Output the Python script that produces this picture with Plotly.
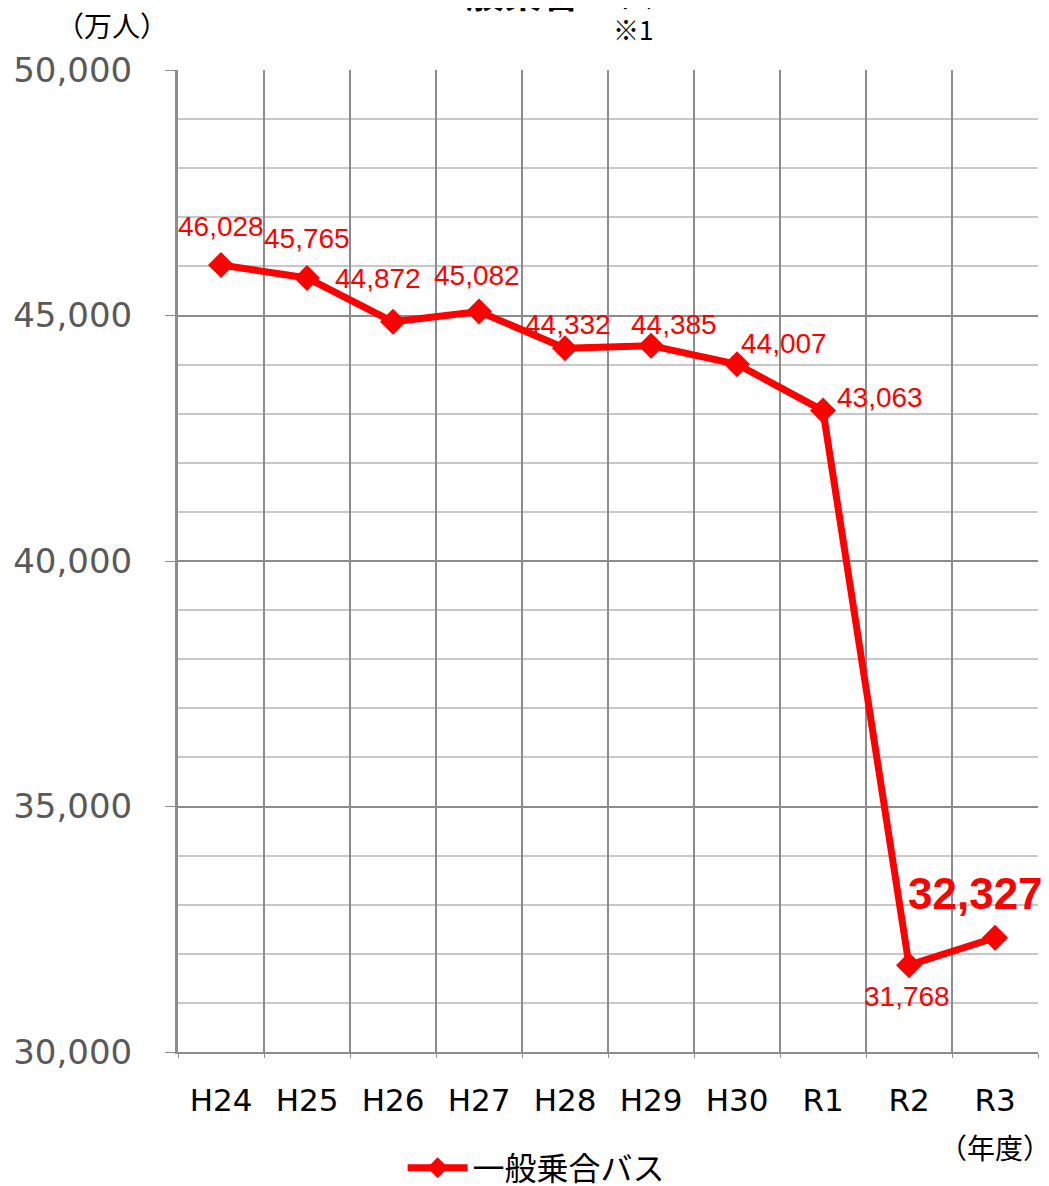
import plotly.graph_objects as go

categories = ["H24", "H25", "H26", "H27", "H28", "H29", "H30", "R1", "R2", "R3"]
passengers = [46028, 45765, 44872, 45082, 44332, 44385, 44007, 43063, 31768, 32327]
series_name = "一般乗合バス"
y_ticks = [30000, 35000, 40000, 45000, 50000]

# label pixel offsets (style only)
label_shift = [(0, 39), (0, 39), (-15, 43), (-2, 36), (3, 24), (23, 21), (47, 21), (57, 13), (-2, -31), (-20, 44)]

RED = "#ff0000"
fig = go.Figure()
fig.add_trace(go.Scatter(
    x=categories, y=passengers, mode="lines+markers", name=series_name,
    line=dict(color=RED, width=7),
    marker=dict(symbol="diamond", size=20, color=RED),
))

for i, (c, v) in enumerate(zip(categories, passengers)):
    dx, dy = label_shift[i]
    last = i == len(categories) - 1
    fig.add_annotation(
        x=c, y=v, xref="x", yref="y", text=f"{v:,}", showarrow=False,
        xshift=dx, yshift=dy,
        font=dict(family="Liberation Sans, Arial", size=44 if last else 28, color=RED,
                  weight="bold" if last else "normal"),
    )

cjk = "Noto Sans CJK JP"
fig.add_annotation(xref="paper", yref="paper", x=0.423, xanchor="center", y=1, yanchor="bottom", yshift=50,
                   text="<b>" + series_name + "</b>", showarrow=False,
                   font=dict(family=cjk, size=38, color="#000"))
fig.add_annotation(xref="paper", yref="paper", x=-0.077, xanchor="center", y=1, yanchor="middle", yshift=45,
                   text="（万人）", showarrow=False,
                   font=dict(family=cjk, size=28, color="#000"))
fig.add_annotation(xref="paper", yref="paper", x=0.529, xanchor="center", y=1, yanchor="middle", yshift=42,
                   text="※1", showarrow=False,
                   font=dict(family=cjk, size=26, color="#000"))
fig.add_annotation(xref="paper", yref="paper", x=0.95, xanchor="center", y=0, yanchor="middle", yshift=-95,
                   text="（年度）", showarrow=False,
                   font=dict(family=cjk, size=28, color="#000"))

fig.update_layout(
    width=1049, height=1186,
    margin=dict(l=170, r=19, t=62, b=142, autoexpand=False),
    paper_bgcolor="white", plot_bgcolor="white",
    showlegend=True,
    legend=dict(orientation="h", x=0.417, xanchor="center", yref="container", y=0.022, yanchor="middle",
                font=dict(family=cjk, size=32, color="#000"),
                itemwidth=60, traceorder="normal"),
    xaxis=dict(
        type="category", tickson="boundaries", showgrid=True, gridcolor="#8c8c8c", gridwidth=2,
        ticks="outside", ticklen=4, tickcolor="#8c8c8c", showline=True, linecolor="#8c8c8c", linewidth=2,
        tickfont=dict(family="DejaVu Sans", size=31, color="#000"),
        ticklabelstandoff=20, automargin=False,
        range=[-0.5, 9.5],
    ),
    yaxis=dict(
        range=[30000, 50000], tickvals=y_ticks, tickformat=",",
        showgrid=True, gridcolor="#8c8c8c", gridwidth=2,
        minor=dict(dtick=1000, showgrid=True, gridcolor="#c8c8c8", gridwidth=2),
        ticks="outside", ticklen=10, tickcolor="#8c8c8c",
        showline=True, linecolor="#8c8c8c", linewidth=3,
        tickfont=dict(family="DejaVu Sans", size=34, color="#595959"),
        ticklabelstandoff=26, automargin=False,
        zeroline=False,
    ),
)

fig.write_html("out.html")
